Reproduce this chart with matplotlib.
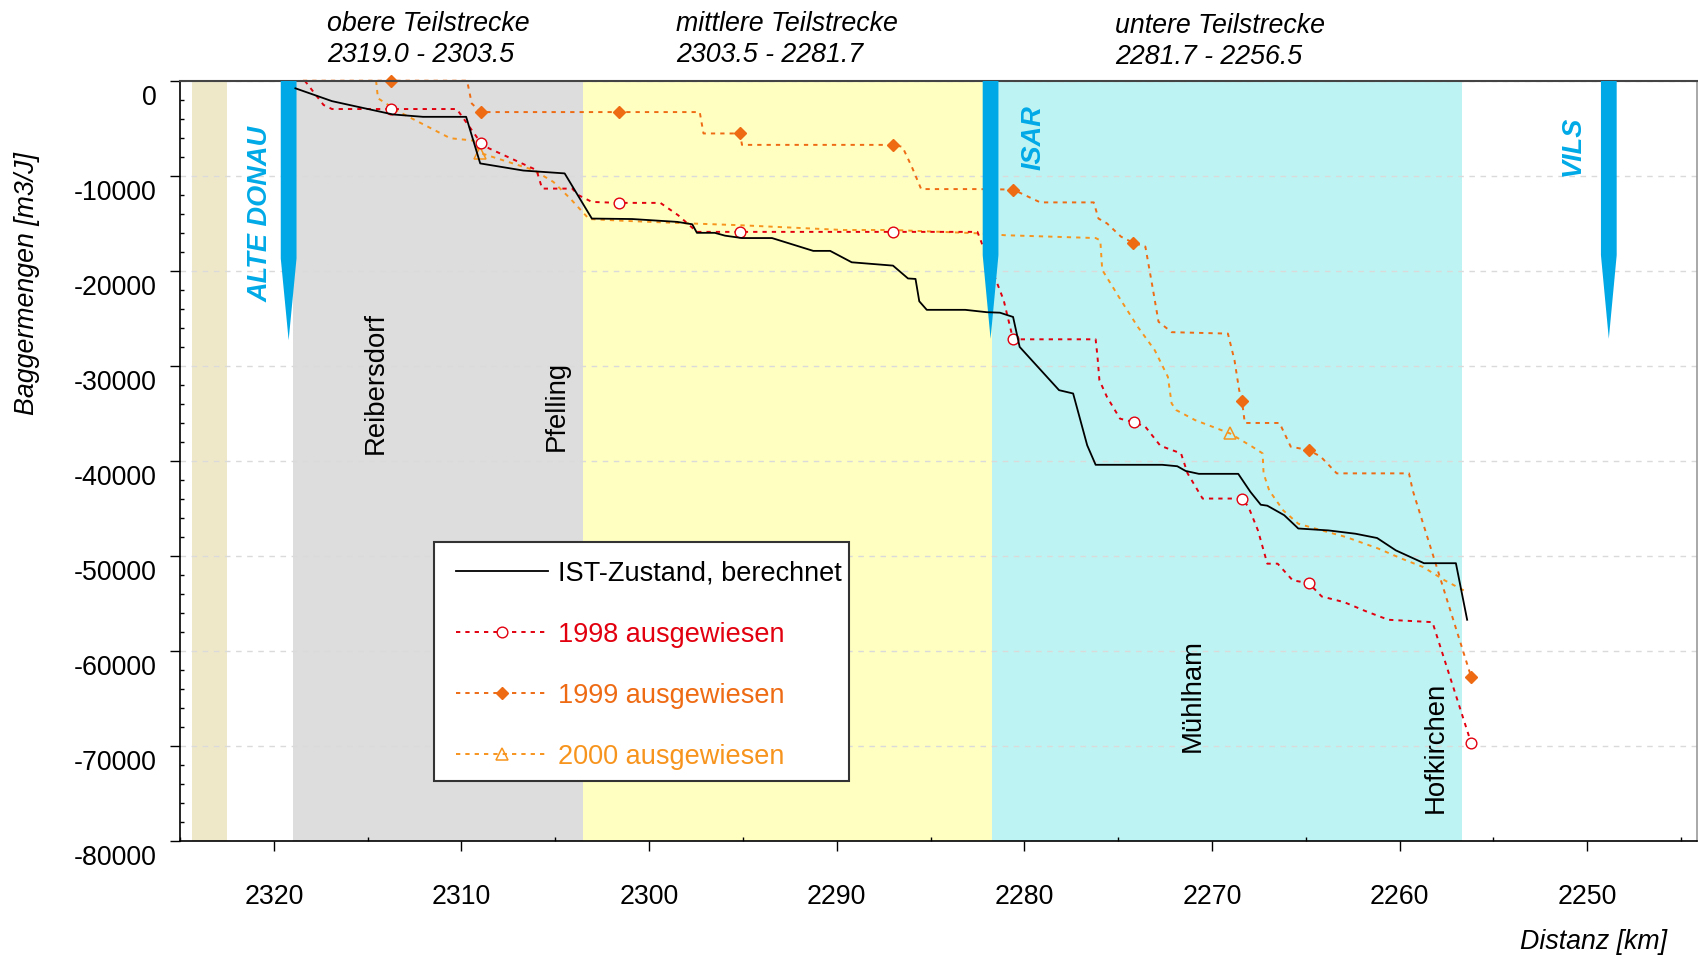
import matplotlib
matplotlib.use("Agg")
import matplotlib.pyplot as plt
from matplotlib.ticker import MultipleLocator
from matplotlib.transforms import ScaledTranslation
from matplotlib.lines import Line2D
from matplotlib.patches import Polygon, Rectangle

plt.rcParams['font.family'] = ['Liberation Sans', 'DejaVu Sans']
plt.rcParams['axes.unicode_minus'] = False

# ---------------- data ----------------
ist_km = [2318.85, 2316.9, 2315.4, 2313.65, 2312.05, 2309.75, 2309.0, 2306.7, 2304.5, 2303.05,
          2300.9, 2298.5, 2297.7, 2297.45, 2296.5, 2295.95, 2295.05, 2293.45, 2291.25, 2290.35,
          2289.2, 2287.0, 2286.2, 2285.8, 2285.6, 2285.2, 2283.15, 2282.0, 2281.3, 2280.6,
          2280.25, 2278.15, 2277.4, 2276.65, 2276.2, 2272.65, 2271.85, 2271.4, 2270.7, 2268.6,
          2267.95, 2267.4, 2267.05, 2266.15, 2265.4, 2263.8, 2262.35, 2261.2, 2260.2, 2258.7,
          2257.0, 2256.4]
ist_val = [-800, -2150, -2800, -3550, -3800, -3800, -8700, -9450, -9750, -14500,
           -14550, -14850, -15100, -16000, -16000, -16300, -16550, -16550, -17900, -17900,
           -19100, -19450, -20800, -20850, -23200, -24100, -24100, -24350, -24400, -24850,
           -28000, -32550, -32900, -38350, -40400, -40400, -40550, -41050, -41350, -41350,
           -43250, -44600, -44700, -45700, -47100, -47300, -47650, -48100, -49400, -50750,
           -50750, -56700]

y1998_km = [2318.35, 2317.35, 2316.9, 2313.75, 2310.25, 2308.97, 2308.55, 2306.0, 2305.7, 2304.1,
            2303.75, 2303.05, 2301.6, 2299.4, 2298.45, 2297.45, 2295.15, 2287.0, 2282.5, 2281.1,
            2280.6, 2276.2, 2276.1, 2276.0, 2275.6, 2274.9, 2274.18, 2273.55, 2272.75, 2271.65,
            2271.3, 2270.5, 2268.4, 2268.05, 2267.55, 2267.05, 2266.5, 2265.7, 2264.84, 2264.15,
            2262.95, 2261.8, 2260.6, 2258.25, 2256.18]
y1998_val = [0, -2550, -2980, -2980, -2980, -6520, -7100, -9400, -11350, -11350,
             -12050, -12750, -12850, -12850, -14150, -15900, -15900, -15900, -15900, -23100,
             -27200, -27200, -29050, -31500, -33250, -35550, -35900, -36400, -38400, -39200,
             -41300, -43950, -43950, -44850, -47300, -50800, -50800, -52550, -52850, -54250,
             -54850, -55800, -56700, -56950, -69700]
y1998_marks = [3, 5, 12, 16, 17, 20, 26, 32, 38, 44]

y1999_km = [2318.45, 2313.75, 2309.7, 2309.45, 2308.97, 2301.6, 2297.3, 2297.1, 2295.15, 2295.05,
            2287.0, 2286.5, 2286.0, 2285.5, 2282.5, 2280.6, 2279.15, 2276.3, 2276.05, 2275.6,
            2274.85, 2274.2, 2273.55, 2273.2, 2272.85, 2272.15, 2269.15, 2268.8, 2268.55, 2268.4,
            2268.25, 2266.4, 2265.8, 2264.84, 2264.2, 2263.35, 2259.5, 2259.3, 2256.18]
y1999_val = [0, 0, 0, -2400, -3300, -3300, -3300, -5550, -5550, -6750,
             -6750, -6950, -9050, -11400, -11400, -11450, -12800, -12800, -14500, -15000,
             -16400, -17050, -17450, -21350, -25350, -26450, -26600, -29400, -32550, -33700,
             -36000, -36000, -38500, -38850, -39550, -41300, -41300, -43100, -62750]
y1999_marks = [1, 4, 5, 8, 10, 15, 21, 29, 33, 38]

y2000_km = [2314.55, 2314.45, 2313.35, 2310.6, 2309.35, 2309.0, 2306.15, 2305.1, 2304.2, 2303.2,
            2301.2, 2298.0, 2295.15, 2289.65, 2287.0, 2282.5, 2281.05, 2276.2, 2275.95, 2275.85,
            2274.85, 2273.95, 2273.05, 2272.35, 2272.15, 2271.9, 2270.9, 2269.04, 2267.85, 2267.3,
            2267.25, 2266.95, 2266.2, 2265.4, 2264.15, 2262.85, 2261.15, 2259.85, 2258.75, 2257.6,
            2256.4]
y2000_val = [0, -1850, -3250, -6050, -6300, -7600, -9400, -10650, -12400, -14550,
             -14750, -15000, -15200, -15700, -15700, -16050, -16250, -16550, -16800, -19900,
             -23100, -25900, -28350, -31150, -33950, -34650, -35700, -37100, -38500, -39200,
             -41300, -43100, -45200, -46600, -47300, -48000, -49200, -50300, -51150, -52550,
             -53800]
y2000_marks = [5, 27]

# section bands (km from, km to)
band_start = [2324.35, 2319.0, 2303.5, 2281.75]
band_end = [2322.5, 2303.5, 2281.75, 2256.7]
band_colors = ['#EEE8C8', '#DCDDDC', '#FFFFC2', '#BEF3F3']

section_titles = ['obere Teilstrecke', 'mittlere Teilstrecke', 'untere Teilstrecke']
section_ranges = ['2319.0 - 2303.5', '2303.5 - 2281.7', '2281.7 - 2256.5']

# tributaries
river_names = ['ALTE DONAU', 'ISAR', 'VILS']
river_km = [2319.21, 2281.80, 2248.85]
river_bar_end = [-18700, -18350, -18350]
river_tip = [-27300, -27150, -27150]
river_label_km = [2320.73, 2279.53, 2250.75]
river_label_val = [-14030, -6030, -6870]

# places
place_names = ['Reibersdorf', 'Pfelling', 'Mühlham', 'Hofkirchen']
place_km = [2314.19, 2304.53, 2270.66, 2257.68]
place_val = [-39250, -38950, -70600, -77000]

legend_labels = ['IST-Zustand, berechnet', '1998 ausgewiesen', '1999 ausgewiesen', '2000 ausgewiesen']

# ---------------- style ----------------
C_RED = '#E2000F'
C_OR1 = '#EE6B14'
C_OR2 = '#F7941D'
C_BLUE = '#00A9E6'
FS = 19.3

W, H = 1699, 959
fig = plt.figure(figsize=(W / 100, H / 100), dpi=100)
ax = fig.add_axes([180 / W, 1 - 841.3 / H, (1697 - 180) / W, (841.3 - 80.7) / H])
ax.set_xlim(2325.0, 2244.15)
ax.set_ylim(-80000, 0)

for s, e, c in zip(band_start, band_end, band_colors):
    ax.axvspan(s, e, color=c, zorder=0, lw=0)

ax.yaxis.set_major_locator(MultipleLocator(10000))
ax.yaxis.set_minor_locator(MultipleLocator(2000))
ax.xaxis.set_major_locator(MultipleLocator(10))
ax.xaxis.set_minor_locator(MultipleLocator(5))
ax.grid(axis='y', which='major', color='#DADADA', lw=1.0, ls=(0, (4, 4)), zorder=0.5)
ax.set_axisbelow(True)

ax.tick_params(axis='both', which='major', direction='out', length=7, width=1, labelsize=FS, colors='black')
ax.tick_params(axis='both', which='minor', direction='in', length=3, width=1)
ax.tick_params(axis='x', which='major', pad=24)
ax.tick_params(axis='y', which='major', pad=10)
ax.set_yticklabels([str(int(v)) for v in ax.get_yticks()])
off = ScaledTranslation(0, -0.14, fig.dpi_scale_trans)
for lab in ax.get_yticklabels():
    lab.set_transform(lab.get_transform() + off)

for side in ['left', 'bottom']:
    ax.spines[side].set_color('black')
    ax.spines[side].set_linewidth(1.2)
ax.spines['top'].set_color('#444444')
ax.spines['top'].set_linewidth(1.5)
ax.spines['right'].set_color('#999999')
ax.spines['right'].set_linewidth(1.2)

dash = (0, (2.2, 2.6))
ax.plot(y2000_km, y2000_val, color=C_OR2, lw=1.4, ls=dash, marker='^', ms=8.4,
        mfc='none', mec=C_OR2, mew=1.1, markevery=y2000_marks, zorder=2)
ax.plot(y1999_km, y1999_val, color=C_OR1, lw=1.4, ls=dash, marker='D', ms=6,
        mfc=C_OR1, mec=C_OR1, markevery=y1999_marks, zorder=2.2, clip_on=False)
ax.plot(y1998_km, y1998_val, color=C_RED, lw=1.4, ls=dash, marker='o', ms=7.7,
        mfc='white', mec=C_RED, mew=1.0, markevery=y1998_marks, zorder=2.4)

# tributary arrows
for k, be, tp in zip(river_km, river_bar_end, river_tip):
    hw = 0.42
    poly = Polygon([(k + hw, 0), (k + hw, be), (k, tp), (k - hw, be), (k - hw, 0)],
                   closed=True, fc=C_BLUE, ec='none', zorder=3)
    ax.add_patch(poly)

ax.plot(ist_km, ist_val, color='black', lw=1.3, zorder=4)

for name, k, v in zip(river_names, river_label_km, river_label_val):
    ax.text(k, v, name, rotation=90, ha='center', va='center', color=C_BLUE,
            fontsize=19.5, fontweight='bold', fontstyle='italic', zorder=5)

for name, k, v in zip(place_names, place_km, place_val):
    ax.text(k, v, name, rotation=90, rotation_mode='anchor', ha='left', va='baseline',
            fontsize=19.8, color='black', zorder=5)

title_x = [327, 676, 1115]
title_y1 = [30.7, 30.7, 33.3]
title_y2 = [61.7, 61.7, 64.0]
for t, r, x, y1, y2 in zip(section_titles, section_ranges, title_x, title_y1, title_y2):
    fig.text(x / W, 1 - y1 / H, t, fontsize=FS, fontstyle='italic', va='baseline', ha='left')
    fig.text(x / W, 1 - y2 / H, r, fontsize=FS, fontstyle='italic', va='baseline', ha='left')

fig.text(27 / W, 1 - 284 / H, 'Baggermengen [m3/J]', rotation=90, fontsize=FS,
         fontstyle='italic', ha='center', va='center')
fig.text(1667 / W, 1 - 942 / H, 'Distanz [km]', fontsize=FS, fontstyle='italic',
         ha='right', va='center')

# legend frame (figure pixels) and legend content
frame = Rectangle((434 / W, 1 - 780.7 / H), (849.3 - 434) / W, (780.7 - 541.7) / H,
                  transform=fig.transFigure, fc='white', ec='#333333', lw=1.5, zorder=9)
ax.add_artist(frame)
frame.set_clip_on(False)

handles = [
    Line2D([], [], color='black', lw=1.3),
    Line2D([], [], color=C_RED, lw=1.4, ls=dash, marker='o', ms=7.7, mfc='white', mec=C_RED, mew=1.0),
    Line2D([], [], color=C_OR1, lw=1.4, ls=dash, marker='D', ms=6, mfc=C_OR1, mec=C_OR1),
    Line2D([], [], color=C_OR2, lw=1.4, ls=dash, marker='^', ms=8.4, mfc='none', mec=C_OR2, mew=1.1),
]
leg = ax.legend(handles, legend_labels, loc='upper left',
                bbox_to_anchor=(456 / W, 1 - 560.3 / H), bbox_transform=fig.transFigure,
                borderaxespad=0, fontsize=19.5, handlelength=3.4, handletextpad=0.37,
                labelspacing=1.30, borderpad=0, frameon=False)
leg.set_zorder(10)
for txt, c in zip(leg.get_texts(), ['black', C_RED, C_OR1, C_OR2]):
    txt.set_color(c)

fig.savefig('out.png', dpi=100)
